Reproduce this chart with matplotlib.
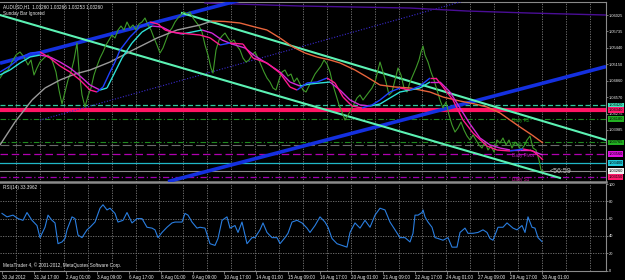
import matplotlib
matplotlib.use("Agg")
import matplotlib.pyplot as plt
import matplotlib.transforms as mtransforms
from matplotlib.collections import LineCollection
import numpy as np

# ---- data (x = bar position) ----
price_x = [0, 4, 8, 12, 16, 20, 24, 28, 31, 34,
           37, 40, 44, 48, 52, 56, 59, 62, 65, 68,
           71, 74, 77, 79, 82, 85, 88, 91, 94, 97,
           100, 103, 106, 109, 112, 115, 118, 121, 124, 127,
           130, 133, 136, 139, 142, 145, 148, 151, 154, 157,
           160, 163, 166, 169, 172, 175, 178, 181, 184, 187,
           190, 193, 196, 199, 202, 205, 208, 211, 213, 216,
           219, 222, 225, 228, 231, 234, 237, 240, 243, 246,
           249, 252, 255, 258, 261, 264, 267, 270, 273, 276,
           279, 282, 285, 288, 291, 294, 297, 300, 303, 306,
           309, 312, 315, 318, 321, 324, 327, 330, 333, 336,
           339, 342, 345, 348, 351, 354, 357, 360, 363, 366,
           369, 372, 375, 378, 380, 383, 386, 389, 392, 395,
           398, 401, 404, 407, 410, 413, 416, 419, 421, 423,
           425, 428, 431, 434, 437, 440, 443, 446, 449, 452,
           455, 458, 461, 464, 467, 470, 473, 476, 479, 482,
           485, 488, 491, 494, 497, 500, 503, 506, 509, 512,
           515, 518, 521, 524, 527, 530, 533, 536, 539, 541,
           543]
close = [1.04907, 1.05014, 1.05049, 1.05191, 1.05315, 1.05369, 1.05280, 1.05138, 1.05227, 1.04961,
         1.05085, 1.05191, 1.05262, 1.05315, 1.05227, 1.05014, 1.04694, 1.04446, 1.04659, 1.04872,
         1.05014, 1.05227, 1.05528, 1.05049, 1.04606, 1.04393, 1.04588, 1.04730, 1.04961, 1.05120,
         1.05262, 1.05369, 1.05493, 1.05581, 1.05670, 1.05617, 1.05759, 1.05830, 1.05759, 1.05901,
         1.05794, 1.05848, 1.05759, 1.05865, 1.05901, 1.05972, 1.05848, 1.05759, 1.05617, 1.05493,
         1.05351, 1.05440, 1.05581, 1.05723, 1.05794, 1.05901, 1.05972, 1.06025, 1.06078, 1.06043,
         1.06078, 1.05972, 1.05901, 1.05830, 1.05723, 1.05493, 1.05315, 1.05085, 1.04996, 1.05404,
         1.05581, 1.05652, 1.05705, 1.05617, 1.05546, 1.05581, 1.05475, 1.05404, 1.05262, 1.05191,
         1.05227, 1.05315, 1.05369, 1.05262, 1.05138, 1.05014, 1.04907, 1.04836, 1.04730, 1.04694,
         1.04872, 1.05014, 1.05049, 1.04943, 1.04978, 1.04836, 1.04907, 1.04801, 1.04694, 1.04659,
         1.04765, 1.04872, 1.04978, 1.05049, 1.05120, 1.05227, 1.05156, 1.05014, 1.04783, 1.04606,
         1.04429, 1.04304, 1.04162, 1.04251, 1.04340, 1.04446, 1.04553, 1.04606, 1.04517, 1.04588,
         1.04659, 1.04730, 1.04836, 1.05049, 1.05191, 1.05014, 1.04836, 1.04606, 1.04659, 1.04872,
         1.05085, 1.04961, 1.04730, 1.04659, 1.04836, 1.04961, 1.05085, 1.05227, 1.05369, 1.05475,
         1.05315, 1.05191, 1.05014, 1.04872, 1.04694, 1.04517, 1.04375, 1.04482, 1.04251, 1.04074,
         1.03949, 1.04020, 1.04127, 1.03985, 1.03878, 1.03807, 1.03896, 1.03807, 1.03719, 1.03665,
         1.03772, 1.03630, 1.03701, 1.03594, 1.03807, 1.03754, 1.03843, 1.03719, 1.03807, 1.03665,
         1.03772, 1.03719, 1.03630, 1.03701, 1.03807, 1.03878, 1.03665, 1.03630, 1.03452, 1.03275,
         1.03260]

fast_x = [0, 10, 20, 30, 40, 50, 60, 70, 80, 90,
          97, 103, 110, 115, 120, 130, 140, 150, 158, 165,
          172, 180, 190, 200, 210, 220, 230, 243, 253, 267,
          280, 290, 297, 307, 317, 327, 335, 343, 352, 362,
          372, 380, 390, 400, 410, 420, 430, 436, 443, 453,
          463, 473, 487, 497, 510, 523, 533, 540, 543]
fast_ma = [1.05014, 1.05120, 1.05262, 1.05351, 1.05369, 1.05262, 1.05120, 1.05014, 1.04872, 1.04694,
           1.04659, 1.04748, 1.05014, 1.05191, 1.05404, 1.05635, 1.05812, 1.05901, 1.05865, 1.05759,
           1.05723, 1.05705, 1.05688, 1.05670, 1.05620, 1.05493, 1.05528, 1.05510, 1.05262, 1.05174,
           1.04996, 1.04748, 1.04694, 1.04819, 1.04836, 1.04907, 1.04819, 1.04570, 1.04411, 1.04375,
           1.04429, 1.04517, 1.04659, 1.04730, 1.04694, 1.04765, 1.04907, 1.04907, 1.04748, 1.04517,
           1.04162, 1.03931, 1.03701, 1.03630, 1.03612, 1.03648, 1.03612, 1.03506, 1.03452]

mid_x = [0, 10, 20, 30, 40, 50, 60, 70, 80, 90,
         100, 107, 115, 122, 132, 142, 152, 162, 172, 182,
         192, 202, 212, 222, 232, 245, 255, 268, 280, 290,
         300, 310, 320, 330, 340, 350, 360, 370, 380, 390,
         400, 410, 420, 430, 440, 450, 460, 470, 480, 490,
         500, 510, 520, 530, 540, 543]
mid_ma = [1.04961, 1.05049, 1.05174, 1.05280, 1.05315, 1.05280, 1.05191, 1.05085, 1.04943, 1.04783,
          1.04694, 1.04730, 1.05014, 1.05262, 1.05528, 1.05723, 1.05830, 1.05812, 1.05723, 1.05688,
          1.05723, 1.05759, 1.05705, 1.05581, 1.05510, 1.05440, 1.05297, 1.05156, 1.05014, 1.04836,
          1.04765, 1.04801, 1.04819, 1.04836, 1.04694, 1.04517, 1.04429, 1.04411, 1.04446, 1.04553,
          1.04659, 1.04694, 1.04730, 1.04836, 1.04836, 1.04659, 1.04375, 1.04091, 1.03843, 1.03719,
          1.03665, 1.03630, 1.03630, 1.03630, 1.03559, 1.03541]

slow_x = [0, 15, 32, 45, 60, 75, 90, 110, 133, 157,
          177, 200, 212, 225, 240, 255, 267, 280, 293, 305,
          317, 330, 340, 355, 367, 380, 395, 410, 430, 443,
          460, 475, 487, 500, 510, 520, 532, 543]
slow_ma = [1.03719, 1.04127, 1.04517, 1.04730, 1.04872, 1.04978, 1.05049, 1.05191, 1.05404, 1.05617,
           1.05759, 1.05848, 1.05918, 1.05910, 1.05883, 1.05812, 1.05759, 1.05617, 1.05457, 1.05351,
           1.05280, 1.05227, 1.05174, 1.05049, 1.04925, 1.04783, 1.04748, 1.04730, 1.04659, 1.04570,
           1.04499, 1.04446, 1.04393, 1.04287, 1.04162, 1.04038, 1.03896, 1.03754]

# trend lines: (x0, x1), (p0, p1)
blue_upper = ([0, 240], [1.0517, 1.0629])
blue_lower = ([168, 606], [1.0307, 1.0511])
blue_mid = ([40, 467], [1.0416, 1.0629])
aqua_lower = ([0, 560], [1.06025, 1.03134])
aqua_upper = ([182, 606], [1.06060, 1.03807])
weekly_x = [205, 300, 410, 467, 530, 606]
weekly_ma = [1.06238, 1.06185, 1.06149, 1.06096, 1.06060, 1.06025]

level_prices = [1.04420, 1.04340, 1.04180, 1.03765, 1.03715, 1.03560, 1.03400, 1.03260, 1.03150]
level_names = ["", "", "Daily R2", "Daily R1", "", "Daily Pivot", "", "", "Daily S1"]

# right-hand price scale (labels hidden under the level boxes are left out)
price_ticks = [1.06025, 1.05735, 1.05440, 1.05150, 1.04860, 1.04570, 1.04275, 1.03985]

rsi_x = [2, 7, 13, 18, 23, 27, 32, 37, 40, 45,
         48, 52, 55, 58, 62, 65, 67, 72, 75, 78,
         82, 87, 90, 95, 100, 103, 107, 110, 115, 118,
         123, 127, 132, 137, 142, 147, 152, 155, 158, 162,
         167, 172, 175, 182, 185, 188, 192, 197, 200, 205,
         210, 215, 218, 222, 227, 230, 235, 238, 242, 247,
         252, 255, 260, 263, 267, 272, 277, 280, 285, 288,
         292, 297, 302, 307, 310, 315, 320, 325, 328, 332,
         337, 342, 347, 350, 355, 360, 365, 370, 375, 380,
         385, 390, 395, 400, 405, 410, 413, 415, 418, 422,
         423, 425, 428, 432, 435, 438, 443, 448, 452, 457,
         460, 465, 468, 473, 478, 483, 487, 490, 493, 498,
         503, 507, 510, 513, 517, 522, 525, 528, 532, 535,
         538, 542]
rsi = [66, 62, 64, 60, 58, 67, 58, 52, 38, 50,
       64, 58, 55, 31, 33, 37, 47, 62, 60, 41,
       38, 47, 50, 56, 72, 76, 70, 72, 66, 56,
       58, 67, 55, 60, 60, 50, 49, 47, 38, 44,
       50, 55, 56, 56, 66, 64, 56, 49, 50, 49,
       31, 29, 37, 58, 62, 49, 52, 44, 56, 31,
       38, 38, 47, 55, 44, 38, 38, 31, 38, 43,
       56, 58, 55, 49, 44, 52, 62, 56, 50, 37,
       31, 29, 27, 44, 55, 49, 58, 50, 64, 72,
       70, 56, 47, 38, 38, 33, 43, 64, 64, 67,
       70, 62, 56, 50, 38, 37, 35, 38, 27, 27,
       44, 49, 43, 43, 44, 47, 44, 37, 35, 50,
       50, 55, 52, 49, 47, 52, 44, 62, 50, 49,
       38, 33.4]
rsi_levels = [20, 40, 60, 80]

date_labels = ["30 Jul 2012", "31 Jul 17:00", "2 Aug 01:00", "3 Aug 09:00", "6 Aug 17:00",
               "8 Aug 01:00", "9 Aug 09:00", "10 Aug 17:00", "14 Aug 01:00", "15 Aug 09:00",
               "16 Aug 17:00", "20 Aug 01:00", "21 Aug 09:00", "22 Aug 17:00", "24 Aug 01:00",
               "27 Aug 09:00", "28 Aug 17:00", "30 Aug 01:00"]

assert len(price_x) == len(close)
assert len(fast_x) == len(fast_ma) and len(mid_x) == len(mid_ma) and len(slow_x) == len(slow_ma)
assert len(rsi_x) == len(rsi)

plt.rcParams["font.family"] = ["Liberation Sans", "DejaVu Sans"]

# ---- figure ----
W, H = 625, 280
fig = plt.figure(figsize=(W / 100, H / 100), dpi=100, facecolor="black")


def px_axes(x0, y0, x1, y1):
    a = fig.add_axes([x0 / W, 1 - y1 / H, (x1 - x0) / W, (y1 - y0) / H])
    a.set_facecolor("black")
    return a


ax = px_axes(0, 2, 606, 181.5)
rax = px_axes(0, 184, 606, 270.5)
XMAX = 606
GRAY = "#8a8a8a"
TXT = "#ececec"
FS = 3.3
FS_SCALE = 2.9

for a in (ax, rax):
    a.set_xlim(0, XMAX)
    for s in a.spines.values():
        s.set_color(GRAY)
        s.set_linewidth(0.8)
    a.spines["left"].set_visible(False)
    a.yaxis.tick_right()
    a.tick_params(axis="y", colors=GRAY, labelcolor=TXT, labelsize=FS_SCALE,
                  length=1.5, width=0.6, pad=0.6)
    # vertical dotted grid
    for gx in np.arange(16.1, XMAX, 23.9):
        a.axvline(gx, color="#7a7a7a", lw=0.6, ls=(0, (1.5, 1.5)), zorder=0)

ax.spines["bottom"].set_linewidth(1.8)
rax.spines["top"].set_visible(False)
ax.set_ylim(1.03071, 1.06256)
ax.set_xticks([])
ax.set_yticks(price_ticks)
ax.set_yticklabels([f"{t:.5f}" for t in price_ticks])

# horizontal levels
level_styles = [
    dict(color="#2fc49a", lw=0.9, ls=(0, (4, 2))),
    dict(color="#ff1464", lw=3.0, ls="-"),
    dict(color="#1f8a1f", lw=0.8, ls=(0, (5, 2, 1, 2))),
    dict(color="#1f8a1f", lw=0.8, ls=(0, (5, 2, 1, 2))),
    dict(color="#6a6a6a", lw=0.8, ls=(0, (8, 3))),
    dict(color="#b000b0", lw=0.9, ls=(0, (6, 3))),
    dict(color="#20b8c8", lw=0.9, ls="-"),
    dict(color="#8a8a8a", lw=0.8, ls="-"),
    dict(color="#a000b0", lw=0.9, ls=(0, (5, 2, 1, 2))),
]
box_colors = ["#40e8c0", "#ff1a6c", "#22b022", "#22b022", None, "#e010e0", "#20c8d8", "#f0f0f0", "#ff1a6c"]
name_colors = ["", "", "#1fa01f", "#1fa01f", "", "#c020c0", "", "", "#d020a0"]
blend = mtransforms.blended_transform_factory(ax.transAxes, ax.transData)
for p, st, bc, name, nc in zip(level_prices, level_styles, box_colors, level_names, name_colors):
    ax.axhline(p, zorder=2, **st)
    if bc:
        ax.text(1.004, p, f"{p:.5f}", transform=blend, fontsize=FS_SCALE, color="black", va="center",
                ha="left", clip_on=False, zorder=10,
                bbox=dict(boxstyle="square,pad=0.2", fc=bc, ec="none"))
    if name:
        ax.text(512, p - 0.00035, name, fontsize=FS, color=nc, va="center", ha="left", zorder=6)

# trend lines
ax.plot(*blue_upper, color="#1430e0", lw=2.6, zorder=4, solid_capstyle="butt")
ax.plot(*blue_lower, color="#1430e0", lw=2.6, zorder=4, solid_capstyle="butt")
ax.plot(*blue_mid, color="#3a2ad0", lw=0.8, ls=(0, (1, 1.5)), zorder=3)
ax.plot(*aqua_lower, color="#5cf2b4", lw=1.5, zorder=4)
ax.plot(*aqua_upper, color="#5cf2b4", lw=1.5, zorder=4)
ax.plot(weekly_x, weekly_ma, color="#4a0e96", lw=1.0, zorder=3)


def colored_ma(xs, ys, up, down, lw):
    xs = np.asarray(xs, float)
    ys = np.asarray(ys, float)
    segs = np.stack([np.column_stack([xs[:-1], ys[:-1]]),
                     np.column_stack([xs[1:], ys[1:]])], axis=1)
    cols = [up if b > a else down for a, b in zip(ys[:-1], ys[1:])]
    ax.add_collection(LineCollection(segs, colors=cols, linewidths=lw, zorder=6))


# price line
ax.plot(price_x, close, color="#3f9a2a", lw=0.8, zorder=5)
colored_ma(slow_x, slow_ma, "#9a9a9a", "#e8643c", 1.0)
colored_ma(mid_x, mid_ma, "#2ee0d8", "#d228d8", 1.0)
colored_ma(fast_x, fast_ma, "#2040ff", "#ff1a8c", 1.0)

ax.text(550, 1.03240, "<56:59", fontsize=5.0, color="#c8c8c8", va="center", ha="left", zorder=8)
ax.text(0.005, 0.99, "AUDUSD,H1  1.03260 1.03266 1.03253 1.03260", transform=ax.transAxes,
        fontsize=FS, color=TXT, va="top", ha="left", zorder=9)
ax.text(0.005, 0.95, "Sunday Bar Ignored", transform=ax.transAxes,
        fontsize=FS, color=TXT, va="top", ha="left", zorder=9)

# RSI pane
rax.set_ylim(0, 100)
for lv in rsi_levels:
    rax.axhline(lv, color="#7a7a7a", lw=0.6, ls=(0, (1.5, 1.5)), zorder=0)
rax.plot(rsi_x, rsi, color="#2a7ee0", lw=0.8, zorder=3)
rax.set_yticks([0, 20, 40, 60, 80, 100])
rax.set_yticklabels(["0", "20", "40", "60", "80", "100"])
rax.text(0.005, 0.985, "RSI(14) 33.3962", transform=rax.transAxes, fontsize=FS,
         color=TXT, va="top", ha="left")
rax.text(0.005, 0.03, "MetaTrader 4, \u00a9 2001-2012, MetaQuotes Software Corp.",
         transform=rax.transAxes, fontsize=FS, color=TXT, va="bottom", ha="left")
rax.set_xticks([2 + 31.75 * k for k in range(len(date_labels))])
rax.set_xticklabels(date_labels, ha="left")
rax.tick_params(axis="x", colors=GRAY, labelcolor=TXT, labelsize=FS, length=2, width=0.6, pad=1)

fig.savefig("out.png", dpi=100, facecolor="black")
